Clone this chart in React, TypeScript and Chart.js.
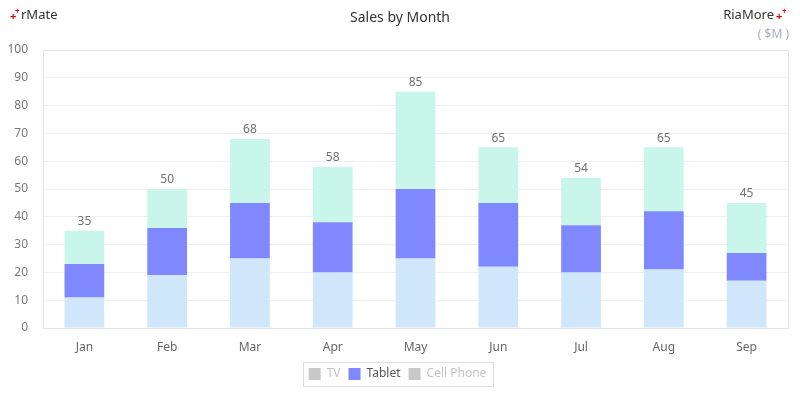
import React, { useEffect, useRef } from "react";
import { Chart, registerables } from "chart.js";

Chart.register(...registerables);

const months = ["Jan", "Feb", "Mar", "Apr", "May", "Jun", "Jul", "Aug", "Sep"];
const tvValues = [11, 19, 25, 20, 25, 22, 20, 21, 17];
const tabletValues = [12, 17, 20, 18, 25, 23, 17, 21, 10];
const cellPhoneValues = [12, 14, 23, 20, 35, 20, 17, 23, 18];
const seriesNames = ["TV", "Tablet", "Cell Phone"];
const yTicks = [0, 10, 20, 30, 40, 50, 60, 70, 80, 90, 100];

const FONT = "'Noto Sans', 'Open Sans', sans-serif";

const decorPlugin = {
  id: "decor",
  beforeDatasetsDraw(chart: any) {
    const { ctx, chartArea } = chart;
    ctx.save();
    ctx.strokeStyle = "#e3e3e3";
    ctx.lineWidth = 1;
    ctx.strokeRect(
      Math.round(chartArea.left) + 0.5,
      Math.round(chartArea.top) + 0.5,
      Math.round(chartArea.right - chartArea.left),
      Math.round(chartArea.bottom - chartArea.top)
    );
    ctx.restore();
  },
  afterDraw(chart: any) {
    const { ctx } = chart;
    ctx.save();
    // title
    ctx.fillStyle = "#333";
    ctx.font = `14px ${FONT}`;
    ctx.textAlign = "center";
    ctx.textBaseline = "middle";
    ctx.fillText("Sales by Month", 400, 18);
    // top-left logo
    ctx.textAlign = "left";
    ctx.fillStyle = "#e00000";
    ctx.font = `bold 11px ${FONT}`;
    ctx.fillText("+", 10, 17);
    ctx.font = `bold 8px ${FONT}`;
    ctx.fillText("+", 15, 12);
    ctx.fillStyle = "#333";
    ctx.font = `13px ${FONT}`;
    ctx.fillText("rMate", 21, 15);
    // top-right
    ctx.textAlign = "right";
    ctx.fillText("RiaMore", 774, 15);
    ctx.textAlign = "left";
    ctx.fillStyle = "#e00000";
    ctx.font = `bold 11px ${FONT}`;
    ctx.fillText("+", 776, 17);
    ctx.font = `bold 8px ${FONT}`;
    ctx.fillText("+", 782, 12);
    ctx.textAlign = "right";
    ctx.fillStyle = "#a9aec0";
    ctx.font = `12px ${FONT}`;
    ctx.fillText("( $M )", 789, 35);

    // totals above bars
    const lastMeta = chart.getDatasetMeta(chart.data.datasets.length - 1);
    ctx.fillStyle = "#707070";
    ctx.font = `12px ${FONT}`;
    ctx.textAlign = "center";
    ctx.textBaseline = "bottom";
    months.forEach((_, i) => {
      const total = tvValues[i] + tabletValues[i] + cellPhoneValues[i];
      const el = lastMeta.data[i];
      ctx.fillText(String(total), el.x, el.y - 3);
    });

    // legend border
    const lg = chart.legend;
    if (lg && lg.legendHitBoxes && lg.legendHitBoxes.length) {
      const boxes = lg.legendHitBoxes;
      const l = Math.min(...boxes.map((b: any) => b.left)) - 6;
      const r = Math.max(...boxes.map((b: any) => b.left + b.width)) + 6;
      const t = Math.min(...boxes.map((b: any) => b.top)) - 6;
      const bt = Math.max(...boxes.map((b: any) => b.top + b.height)) + 6;
      ctx.strokeStyle = "#dddddd";
      ctx.lineWidth = 1;
      ctx.strokeRect(Math.round(l) + 0.5, Math.round(t) + 0.5, Math.round(r - l), Math.round(bt - t));
    }
    ctx.restore();
  },
};

export default function App() {
  const canvasRef = useRef<HTMLCanvasElement | null>(null);

  useEffect(() => {
    document.body.style.margin = "0";
    const canvas = canvasRef.current;
    if (!canvas) return;
    const colors = ["#d0e6fa", "#7f88ff", "#c9f6eb"];
    const chart = new Chart(canvas, {
      type: "bar",
      data: {
        labels: months,
        datasets: [
          { label: seriesNames[0], data: tvValues, backgroundColor: colors[0] },
          { label: seriesNames[1], data: tabletValues, backgroundColor: colors[1] },
          { label: seriesNames[2], data: cellPhoneValues, backgroundColor: colors[2] },
        ],
      },
      options: {
        animation: false,
        responsive: false,
        maintainAspectRatio: false,
        layout: { padding: { top: 50, right: 12, left: 7, bottom: 10 } },
        datasets: { bar: { categoryPercentage: 1, barPercentage: 0.48 } } as any,
        plugins: {
          title: { display: false },
          tooltip: { enabled: false },
          legend: {
            position: "bottom",
            onClick: () => {},
            labels: {
              boxWidth: 12,
              boxHeight: 12,
              padding: 8,
              font: { family: FONT, size: 12 },
              generateLabels: () =>
                seriesNames.map((name, i) => ({
                  text: name,
                  fillStyle: i === 1 ? colors[1] : "#c8c8c8",
                  strokeStyle: i === 1 ? colors[1] : "#c8c8c8",
                  fontColor: i === 1 ? "#555" : "#c4c4c4",
                  lineWidth: 0,
                  hidden: false,
                  datasetIndex: i,
                })),
            },
          },
        },
        scales: {
          x: {
            stacked: true,
            grid: { display: false, drawTicks: false },
            border: { display: false },
            ticks: { color: "#666", font: { family: FONT, size: 12 }, padding: 12 },
            afterFit: (s: any) => {
              s.height = 32;
            },
          },
          y: {
            stacked: true,
            min: 0,
            max: 100,
            grid: { color: "#efefef", drawTicks: false },
            border: { display: false },
            afterBuildTicks: (s: any) => {
              s.ticks = yTicks.map((v) => ({ value: v }));
            },
            ticks: {
              color: "#777",
              font: { family: FONT, size: 12 },
              padding: 15,
            },
            afterFit: (s: any) => {
              s.width = 36;
            },
          },
        },
      },
      plugins: [decorPlugin],
    });
    return () => chart.destroy();
  }, []);

  return (
    <div style={{ width: 800, height: 400 }}>
      <canvas ref={canvasRef} width={800} height={400} style={{ display: "block" }} />
    </div>
  );
}
